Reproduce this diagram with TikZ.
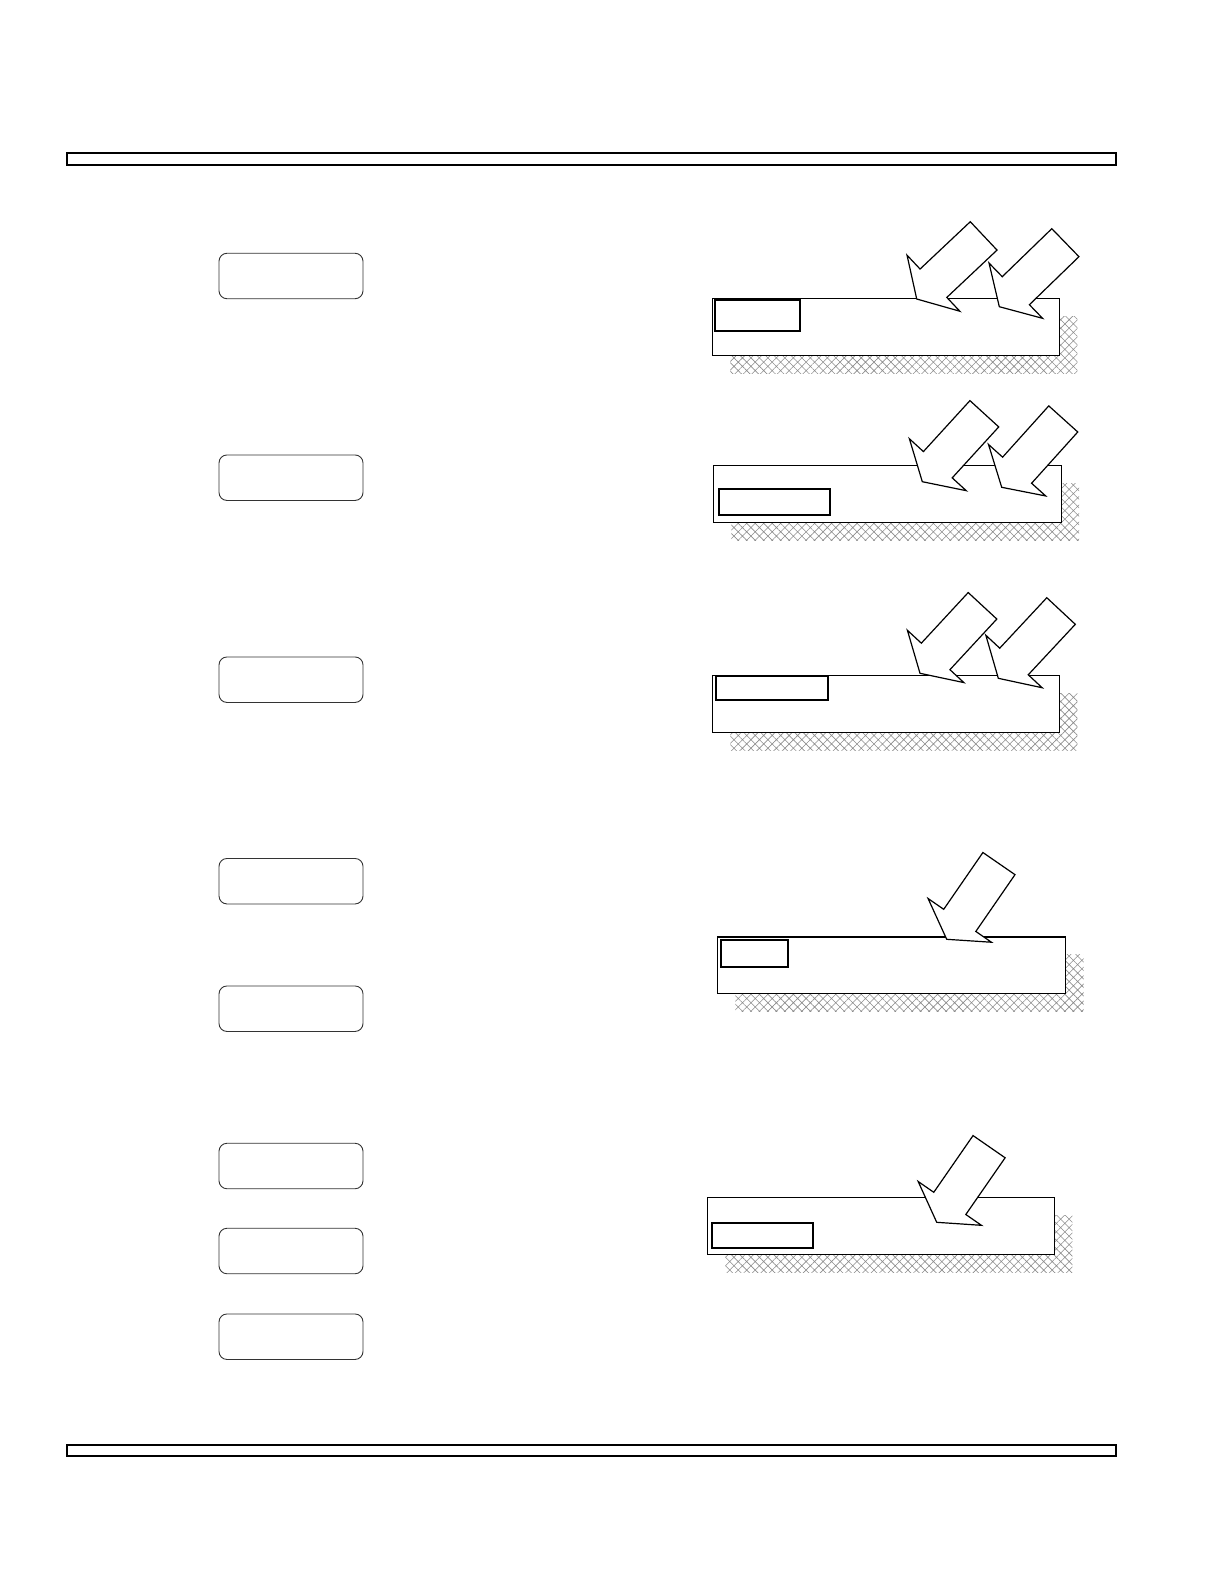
\documentclass[tikz,border=0pt]{standalone}
\usepackage{tikz}
\usetikzlibrary{backgrounds,calc,patterns.meta}

\begin{document}
\begin{tikzpicture}[x=1pt,y=-1pt]
    % `panel' is used for the rounded boxes on the left.
    % `slab' is the long box, `tag' the small box inside it.
    % `ground' is used for the hatched shadow under each slab.
    \tikzstyle{panel} = [draw=black!80,line width=0.9pt,rounded corners=8pt,minimum width=144pt,minimum height=45.5pt,inner sep=0pt,outer sep=0pt]
    \tikzstyle{slab} = [draw,fill=white,line width=1.1pt,minimum height=56.7pt,inner sep=0pt,outer sep=0pt]
    \tikzstyle{tag} = [draw,line width=1.8pt,inner sep=0pt,outer sep=0pt,anchor=north west]
    \tikzstyle{bar} = [draw,line width=2pt,minimum width=1049pt,minimum height=11.4pt,inner sep=0pt,outer sep=0pt]
    \tikzstyle{ground} = [pattern={Hatch[angle=45,distance=6pt,line width=0.6pt]},pattern color=black!45]
    \tikzset{inarrow/.pic={
      \draw[fill=white,line width=1.2pt,line join=miter] (0,0) -- (23,38.5) -- (23,19.5) -- (92,19.5)
        -- (92,-19.5) -- (23,-19.5) -- (23,-38.5) -- cycle;}}
    \useasboundingbox (0,0) rectangle (1224,1584);
    %
    \node[bar] (topbar) at (591.2,159) {};
    \node[bar] (botbar) at (591.2,1450.2) {};
    %
    \foreach \y [count=\i] in {276,477.7,679.7,881.2,1008.7,1166,1251,1336.7}
      \node[panel] (box\i) at (291,\y) {};
    %
    \node[slab,minimum width=347pt] (slab1) at (885.8,326.7) {};
    \node[tag,minimum width=85pt,minimum height=31.3pt] (tag1) at (715.3,300) {};
    \pic[rotate=43.3] at (916.7,299) {inarrow};
    \pic[rotate=44.1] at (999.3,306.7) {inarrow};

    \node[slab,minimum width=347.7pt] (slab2) at (887.2,494) {};
    \node[tag,minimum width=111.6pt,minimum height=25.7pt] (tag2) at (718.7,489.3) {};
    \pic[rotate=47.6] at (922.3,481.7) {inarrow};
    \pic[rotate=48] at (1001.7,487.3) {inarrow};

    \node[slab,minimum width=347pt] (slab3) at (885.8,704) {};
    \node[tag,minimum width=112.3pt,minimum height=23.7pt] (tag3) at (715.7,676.3) {};
    \pic[rotate=47.2] at (920,673.3) {inarrow};
    \pic[rotate=47] at (998.3,678.3) {inarrow};

    \node[slab,minimum width=348.4pt] (slab4) at (891.5,965.3) {};
    \node[tag,minimum width=67.6pt,minimum height=26.7pt] (tag4) at (720.7,940.3) {};
    \pic[rotate=55.4] at (946.7,939.3) {inarrow};

    \node[slab,minimum width=347pt] (slab5) at (880.8,1226) {};
    \node[tag,minimum width=101.6pt,minimum height=25.6pt] (tag5) at (711.7,1222.7) {};
    \pic[rotate=55.3] at (936.7,1222.3) {inarrow};
    %
    \begin{pgfonlayer}{background}
        % Hatched ground, shifted below and right of each slab.
        \foreach \s in {1,...,5}
          \fill[ground] ($(slab\s.north west)+(18,18)$) rectangle ($(slab\s.south east)+(18,18)$);
    \end{pgfonlayer}
\end{tikzpicture}
\end{document}
